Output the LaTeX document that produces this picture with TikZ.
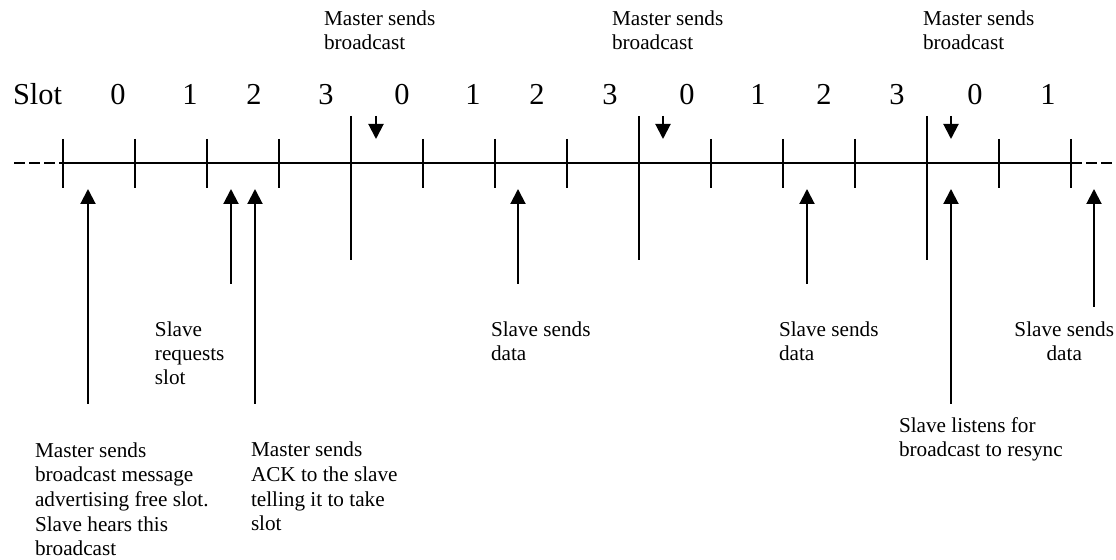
\documentclass[tikz,border=0pt]{standalone}
\usepackage{fontspec}
\setmainfont{Liberation Serif}
\usetikzlibrary{arrows.meta}
\begin{document}
\begin{tikzpicture}[x=0.5pt,y=-0.5pt,line width=1pt,
  note/.style={font=\fontsize{10.6}{12.2}\selectfont,inner sep=0pt,align=left,anchor=base west},
  slotnum/.style={font=\fontsize{15.2}{18}\selectfont,inner sep=0pt,anchor=base},
  tip/.style={-{Triangle[width=7.5pt,length=7.5pt]}},
  fade/.style={dash pattern=on 5.5pt off 2pt}]
\useasboundingbox (0,0) rectangle (1116,560);

% time axis
\coordinate (axL) at (14,163);
\coordinate (ax0) at (63,163);
\coordinate (ax1) at (1071,163);
\coordinate (axR) at (1116,163);
\draw[fade] (axL) -- (ax0);
\draw (ax0) -- (ax1);
\draw[fade] (ax1) -- (axR);

% slot boundaries: long ones mark a new frame
\foreach \i in {0,...,14}{
  \pgfmathtruncatemacro{\xx}{63+72*\i}
  \ifnum\i=4 \draw (\xx,116) -- (\xx,260);
  \else\ifnum\i=8 \draw (\xx,116) -- (\xx,260);
  \else\ifnum\i=12 \draw (\xx,116) -- (\xx,260);
  \else \draw (\xx,139) -- (\xx,188);
  \fi\fi\fi
}

% slot numbers
\node[slotnum,anchor=base west] (slot) at (12,105) {Slot};
\foreach \n/\x/\t in {s0/118/0,s1/190/1,s2/254/2,s3/326/3,
                      s4/402/0,s5/473/1,s6/537/2,s7/610/3,
                      s8/687/0,s9/758/1,s10/824/2,s11/897/3,
                      s12/975/0,s13/1048/1}
  \node[slotnum] (\n) at (\x,105) {\t};

% broadcast markers (base = baseline of the last line)
\node[note] (mb1) at (323,50) {Master sends\\broadcast};
\node[note] (mb2) at (611,50) {Master sends\\broadcast};
\node[note] (mb3) at (922,50) {Master sends\\broadcast};
\foreach \k/\x in {1/376,2/663,3/951}{
  \coordinate (bt\k) at (\x,116);
  \coordinate (bh\k) at (\x,139);
  \draw[tip] (bt\k) -- (bh\k);
}

% events below the axis
\foreach \k/\x/\y in {a/88/404,b/231/284,c/255/404,d/518/284,e/807/284,f/951/404,g/1094/307}{
  \coordinate (ef\k) at (\x,\y);
  \coordinate (eh\k) at (\x,189);
  \draw[tip] (ef\k) -- (eh\k);
}

\node[note] (req) at (154,385) {Slave\\requests\\slot};
\node[note] (dat1) at (490,361) {Slave sends\\data};
\node[note] (dat2) at (778,361) {Slave sends\\data};
\node[note,align=center,anchor=base east] (dat3) at (1115,361) {Slave sends\\data};
\node[note,font=\fontsize{10.6}{12.35}\selectfont] (adv) at (34,556) {Master sends\\broadcast message\\advertising free slot.\\Slave hears this\\broadcast};
\node[note,font=\fontsize{10.6}{12.35}\selectfont] (ack) at (250,531) {Master sends\\ACK to the slave\\telling it to take\\slot};
\node[note] (rsync) at (898,457) {Slave listens for\\broadcast to resync};
\end{tikzpicture}
\end{document}
